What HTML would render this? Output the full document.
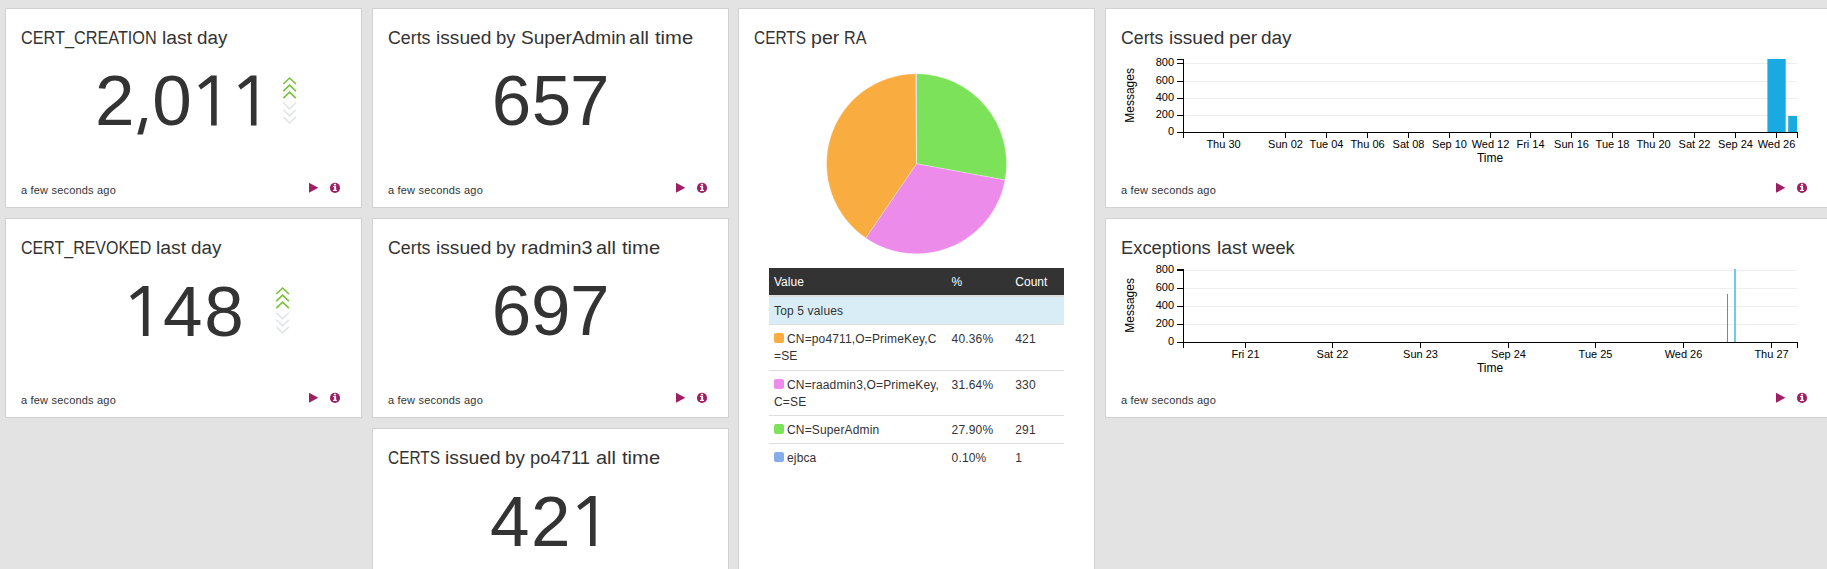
<!DOCTYPE html>
<html><head><meta charset="utf-8">
<style>
html,body{margin:0;padding:0;}
body{width:1827px;height:569px;overflow:hidden;background:#e3e3e3;position:relative;font-family:"Liberation Sans",sans-serif;color:#333;}
.card{position:absolute;background:#fff;border:1px solid #d1d1d1;box-sizing:border-box;}
.t{position:absolute;white-space:nowrap;line-height:1;}
.title{font-size:18px;color:#333;}
.num{font-size:71px;color:#333;}
.ago{font-size:11px;color:#333;}
svg{position:absolute;overflow:visible;}
table.qv{position:absolute;border-collapse:collapse;font-size:12px;line-height:17.14px;color:#333;table-layout:fixed;}
table.qv th{background:#333;color:#fff;font-weight:normal;text-align:left;padding:6px 5px 4px;border-bottom:2px solid #ddd;}
table.qv td{padding:6px 5px 4px;letter-spacing:0.15px;border-top:1px solid #ddd;white-space:nowrap;vertical-align:top;}
table.qv tr.info td{background:#d9edf7;}
.sw{display:inline-block;width:10px;height:10px;border-radius:2px;vertical-align:0px;margin-right:3px;}
</style></head>
<body>

<div class="card" style="left:5px;top:8px;width:357px;height:200px;"></div>
<div class="card" style="left:372px;top:8px;width:357px;height:200px;"></div>
<div class="card" style="left:738px;top:8px;width:357px;height:620px;"></div>
<div class="card" style="left:1105px;top:8px;width:724px;height:200px;"></div>
<div class="card" style="left:5px;top:218px;width:357px;height:200px;"></div>
<div class="card" style="left:372px;top:218px;width:357px;height:200px;"></div>
<div class="card" style="left:1105px;top:218px;width:724px;height:200px;"></div>
<div class="card" style="left:372px;top:428px;width:357px;height:200px;"></div>
<div class="t title" style="left:20.70px;top:29px;transform:scaleX(0.9027);transform-origin:0 0;">CERT_CREATION</div>
<div class="t title" style="left:161.93px;top:29px;transform:scaleX(1.0704);transform-origin:0 0;">last</div>
<div class="t title" style="left:196.66px;top:29px;transform:scaleX(1.0429);transform-origin:0 0;">day</div>
<div class="t title" style="left:387.71px;top:29px;transform:scaleX(0.9881);transform-origin:0 0;">Certs</div>
<div class="t title" style="left:435.73px;top:29px;transform:scaleX(1.0660);transform-origin:0 0;">issued</div>
<div class="t title" style="left:496.07px;top:29px;transform:scaleX(1.0278);transform-origin:0 0;">by</div>
<div class="t title" style="left:520.54px;top:29px;transform:scaleX(1.0598);transform-origin:0 0;">SuperAdmin</div>
<div class="t title" style="left:629.29px;top:29px;transform:scaleX(1.1125);transform-origin:0 0;">all</div>
<div class="t title" style="left:655.20px;top:29px;transform:scaleX(1.1212);transform-origin:0 0;">time</div>
<div class="t title" style="left:753.74px;top:29px;transform:scaleX(0.8576);transform-origin:0 0;">CERTS</div>
<div class="t title" style="left:810.61px;top:29px;transform:scaleX(1.0880);transform-origin:0 0;">per</div>
<div class="t title" style="left:843.70px;top:29px;transform:scaleX(0.8958);transform-origin:0 0;">RA</div>
<div class="t title" style="left:1120.82px;top:29px;transform:scaleX(0.9833);transform-origin:0 0;">Certs</div>
<div class="t title" style="left:1168.64px;top:29px;transform:scaleX(1.0620);transform-origin:0 0;">issued</div>
<div class="t title" style="left:1228.81px;top:29px;transform:scaleX(1.0920);transform-origin:0 0;">per</div>
<div class="t title" style="left:1261.15px;top:29px;transform:scaleX(1.0536);transform-origin:0 0;">day</div>
<div class="t title" style="left:20.71px;top:239px;transform:scaleX(0.8883);transform-origin:0 0;">CERT_REVOKED</div>
<div class="t title" style="left:155.72px;top:239px;transform:scaleX(1.0778);transform-origin:0 0;">last</div>
<div class="t title" style="left:190.56px;top:239px;transform:scaleX(1.0429);transform-origin:0 0;">day</div>
<div class="t title" style="left:387.71px;top:239px;transform:scaleX(0.9881);transform-origin:0 0;">Certs</div>
<div class="t title" style="left:435.73px;top:239px;transform:scaleX(1.0660);transform-origin:0 0;">issued</div>
<div class="t title" style="left:496.07px;top:239px;transform:scaleX(1.0278);transform-origin:0 0;">by</div>
<div class="t title" style="left:521.00px;top:239px;transform:scaleX(1.1000);transform-origin:0 0;">radmin3</div>
<div class="t title" style="left:596.39px;top:239px;transform:scaleX(1.1063);transform-origin:0 0;">all</div>
<div class="t title" style="left:622.30px;top:239px;transform:scaleX(1.1212);transform-origin:0 0;">time</div>
<div class="t title" style="left:1120.98px;top:239px;transform:scaleX(1.0195);transform-origin:0 0;">Exceptions</div>
<div class="t title" style="left:1216.73px;top:239px;transform:scaleX(1.0741);transform-origin:0 0;">last</div>
<div class="t title" style="left:1252.30px;top:239px;transform:scaleX(1.0167);transform-origin:0 0;">week</div>
<div class="t title" style="left:387.84px;top:449px;transform:scaleX(0.8559);transform-origin:0 0;">CERTS</div>
<div class="t title" style="left:444.73px;top:449px;transform:scaleX(1.0680);transform-origin:0 0;">issued</div>
<div class="t title" style="left:504.65px;top:449px;transform:scaleX(1.0500);transform-origin:0 0;">by</div>
<div class="t title" style="left:529.68px;top:449px;transform:scaleX(1.0211);transform-origin:0 0;">po4711</div>
<div class="t title" style="left:596.39px;top:449px;transform:scaleX(1.1063);transform-origin:0 0;">all</div>
<div class="t title" style="left:622.30px;top:449px;transform:scaleX(1.1212);transform-origin:0 0;">time</div>
<div class="t num" style="left:95.00px;top:65px;">2</div>
<svg style="left:0;top:0" width="1" height="1"><polygon points="141.7,118 147.3,118 142.9,134.6 137.3,134.6" fill="#333"/></svg>
<div class="t num" style="left:152.20px;top:65px;">0</div>
<svg style="left:0;top:0" width="1" height="1"><polygon points="211.10,75.60 216.70,75.60 216.70,125.40 211.10,125.40 211.10,82.00 200.90,89.60 198.30,85.40" fill="#333"/></svg>
<svg style="left:0;top:0" width="1" height="1"><polygon points="250.90,75.60 256.50,75.60 256.50,125.40 250.90,125.40 250.90,82.00 240.70,89.60 238.10,85.40" fill="#333"/></svg>
<div class="t num" style="left:491.80px;top:65px;">6</div>
<div class="t num" style="left:531.80px;top:65px;">5</div>
<div class="t num" style="left:569.90px;top:65px;">7</div>
<svg style="left:0;top:0" width="1" height="1"><polygon points="142.90,286.10 148.50,286.10 148.50,335.90 142.90,335.90 142.90,292.50 132.70,300.10 130.10,295.90" fill="#333"/></svg>
<div class="t num" style="left:162.90px;top:275.5px;">4</div>
<div class="t num" style="left:204.30px;top:275.5px;">8</div>
<div class="t num" style="left:491.80px;top:275px;">6</div>
<div class="t num" style="left:531.10px;top:275px;">9</div>
<div class="t num" style="left:569.90px;top:275px;">7</div>
<div class="t num" style="left:490.10px;top:485.5px;">4</div>
<div class="t num" style="left:531.10px;top:485.5px;">2</div>
<svg style="left:0;top:0" width="1" height="1"><polygon points="590.00,496.10 595.60,496.10 595.60,545.90 590.00,545.90 590.00,502.50 579.80,510.10 577.20,505.90" fill="#333"/></svg>
<svg style="left:0;top:0" width="1" height="1"><g fill="none" stroke-width="1.6" stroke-linecap="butt"><polyline points="283.3,84.0 289.6,78.0 295.90000000000003,84.0" stroke="#78c13a"/><polyline points="283.3,91.1 289.6,85.1 295.90000000000003,91.1" stroke="#78c13a"/><polyline points="283.3,98.2 289.6,92.2 295.90000000000003,98.2" stroke="#78c13a"/><polyline points="283.3,102.7 289.6,108.8 295.90000000000003,102.7" stroke="#e2e5e7"/><polyline points="283.3,109.8 289.6,115.89999999999999 295.90000000000003,109.8" stroke="#e2e5e7"/><polyline points="283.3,116.9 289.6,123.0 295.90000000000003,116.9" stroke="#e2e5e7"/></g></svg>
<svg style="left:0;top:0" width="1" height="1"><g fill="none" stroke-width="1.6" stroke-linecap="butt"><polyline points="276.3,294.0 282.6,288.0 288.90000000000003,294.0" stroke="#78c13a"/><polyline points="276.3,301.1 282.6,295.1 288.90000000000003,301.1" stroke="#78c13a"/><polyline points="276.3,308.2 282.6,302.2 288.90000000000003,308.2" stroke="#78c13a"/><polyline points="276.3,312.7 282.6,318.8 288.90000000000003,312.7" stroke="#e2e5e7"/><polyline points="276.3,319.8 282.6,325.90000000000003 288.90000000000003,319.8" stroke="#e2e5e7"/><polyline points="276.3,326.9 282.6,333.0 288.90000000000003,326.9" stroke="#e2e5e7"/></g></svg>
<div class="t ago" style="left:21px;top:185px;letter-spacing:0.19px;">a few seconds ago</div>
<svg style="left:0;top:0" width="1" height="1"><polygon points="309,182.7 318.3,187.75 309,192.79999999999998" fill="#9e1f63"/><circle cx="335" cy="187.9" r="5.05" fill="#9e1f63"/><rect x="333.9" y="183.8" width="2.2" height="1.5" fill="#fff"/><rect x="334.2" y="185.9" width="1.9" height="4.9" fill="#fff"/><rect x="333.0" y="185.9" width="1.3" height="1.2" fill="#fff"/><rect x="333.0" y="189.8" width="4.0" height="1.1" fill="#fff"/></svg>
<div class="t ago" style="left:388px;top:185px;letter-spacing:0.19px;">a few seconds ago</div>
<svg style="left:0;top:0" width="1" height="1"><polygon points="676,182.7 685.3,187.75 676,192.79999999999998" fill="#9e1f63"/><circle cx="702" cy="187.9" r="5.05" fill="#9e1f63"/><rect x="700.9" y="183.8" width="2.2" height="1.5" fill="#fff"/><rect x="701.2" y="185.9" width="1.9" height="4.9" fill="#fff"/><rect x="700.0" y="185.9" width="1.3" height="1.2" fill="#fff"/><rect x="700.0" y="189.8" width="4.0" height="1.1" fill="#fff"/></svg>
<div class="t ago" style="left:1121px;top:185px;letter-spacing:0.19px;">a few seconds ago</div>
<svg style="left:0;top:0" width="1" height="1"><polygon points="1776,182.7 1785.3,187.75 1776,192.79999999999998" fill="#9e1f63"/><circle cx="1802" cy="187.9" r="5.05" fill="#9e1f63"/><rect x="1800.9" y="183.8" width="2.2" height="1.5" fill="#fff"/><rect x="1801.2" y="185.9" width="1.9" height="4.9" fill="#fff"/><rect x="1800.0" y="185.9" width="1.3" height="1.2" fill="#fff"/><rect x="1800.0" y="189.8" width="4.0" height="1.1" fill="#fff"/></svg>
<div class="t ago" style="left:21px;top:395px;letter-spacing:0.19px;">a few seconds ago</div>
<svg style="left:0;top:0" width="1" height="1"><polygon points="309,392.7 318.3,397.75 309,402.8" fill="#9e1f63"/><circle cx="335" cy="397.9" r="5.05" fill="#9e1f63"/><rect x="333.9" y="393.79999999999995" width="2.2" height="1.5" fill="#fff"/><rect x="334.2" y="395.9" width="1.9" height="4.9" fill="#fff"/><rect x="333.0" y="395.9" width="1.3" height="1.2" fill="#fff"/><rect x="333.0" y="399.79999999999995" width="4.0" height="1.1" fill="#fff"/></svg>
<div class="t ago" style="left:388px;top:395px;letter-spacing:0.19px;">a few seconds ago</div>
<svg style="left:0;top:0" width="1" height="1"><polygon points="676,392.7 685.3,397.75 676,402.8" fill="#9e1f63"/><circle cx="702" cy="397.9" r="5.05" fill="#9e1f63"/><rect x="700.9" y="393.79999999999995" width="2.2" height="1.5" fill="#fff"/><rect x="701.2" y="395.9" width="1.9" height="4.9" fill="#fff"/><rect x="700.0" y="395.9" width="1.3" height="1.2" fill="#fff"/><rect x="700.0" y="399.79999999999995" width="4.0" height="1.1" fill="#fff"/></svg>
<div class="t ago" style="left:1121px;top:395px;letter-spacing:0.19px;">a few seconds ago</div>
<svg style="left:0;top:0" width="1" height="1"><polygon points="1776,392.7 1785.3,397.75 1776,402.8" fill="#9e1f63"/><circle cx="1802" cy="397.9" r="5.05" fill="#9e1f63"/><rect x="1800.9" y="393.79999999999995" width="2.2" height="1.5" fill="#fff"/><rect x="1801.2" y="395.9" width="1.9" height="4.9" fill="#fff"/><rect x="1800.0" y="395.9" width="1.3" height="1.2" fill="#fff"/><rect x="1800.0" y="399.79999999999995" width="4.0" height="1.1" fill="#fff"/></svg>
<svg style="left:0;top:0" width="1" height="1"><path d="M916.5,163.75 L916.50,73.75 A90,90 0 0 1 1005.01,180.06 Z" fill="#7ce25a" stroke="#fff" stroke-width="0.3"/><path d="M916.5,163.75 L1005.01,180.06 A90,90 0 0 1 865.73,238.06 Z" fill="#ec8bea" stroke="#fff" stroke-width="0.3"/><path d="M916.5,163.75 L865.73,238.06 A90,90 0 0 1 915.93,73.75 Z" fill="#f9ac40" stroke="#fff" stroke-width="0.3"/><path d="M916.5,163.75 L915.93,73.75 A90,90 0 0 1 916.50,73.75 Z" fill="#88abeb" stroke="#fff" stroke-width="0.3"/></svg>
<table class="qv" style="left:769px;top:268px;width:295px;">
<colgroup><col style="width:177.6px"><col style="width:63.7px"><col style="width:53.7px"></colgroup>
<thead><tr><th>Value</th><th>%</th><th>Count</th></tr></thead>
<tbody>
<tr class="info"><td colspan="3">Top 5 values</td></tr>
<tr><td><span class="sw" style="background:#f9ac40"></span>CN=po4711,O=PrimeKey,C<br>=SE</td><td>40.36%</td><td>421</td></tr>
<tr><td><span class="sw" style="background:#ec8bea"></span>CN=raadmin3,O=PrimeKey,<br>C=SE</td><td>31.64%</td><td>330</td></tr>
<tr><td><span class="sw" style="background:#7ce25a"></span>CN=SuperAdmin</td><td>27.90%</td><td>291</td></tr>
<tr><td style="border-bottom:0"><span class="sw" style="background:#88abeb"></span>ejbca</td><td>0.10%</td><td>1</td></tr>
</tbody></table>
<svg style="left:0;top:0" width="1" height="1"><g shape-rendering="crispEdges"><rect x="1184" y="115" width="613" height="1" fill="#eee"/><rect x="1184" y="98" width="613" height="1" fill="#eee"/><rect x="1184" y="81" width="613" height="1" fill="#eee"/><rect x="1184" y="63" width="613" height="1" fill="#eee"/></g><rect x="1767.4" y="59" width="18.3" height="73" fill="#1aaae2"/><rect x="1788.2" y="116" width="8.8" height="16" fill="#1aaae2"/><g shape-rendering="crispEdges" fill="#000"><rect x="1177" y="59" width="7" height="1"/><rect x="1183" y="59" width="1" height="79"/><rect x="1177" y="132" width="6" height="1"/><rect x="1177" y="115" width="6" height="1"/><rect x="1177" y="98" width="6" height="1"/><rect x="1177" y="81" width="6" height="1"/><rect x="1177" y="63" width="6" height="1"/><rect x="1183" y="132" width="615" height="1"/><rect x="1797" y="132" width="1" height="6"/><rect x="1223" y="132" width="1" height="6"/><rect x="1285" y="132" width="1" height="6"/><rect x="1326" y="132" width="1" height="6"/><rect x="1367" y="132" width="1" height="6"/><rect x="1408" y="132" width="1" height="6"/><rect x="1449" y="132" width="1" height="6"/><rect x="1490" y="132" width="1" height="6"/><rect x="1530" y="132" width="1" height="6"/><rect x="1571" y="132" width="1" height="6"/><rect x="1612" y="132" width="1" height="6"/><rect x="1653" y="132" width="1" height="6"/><rect x="1694" y="132" width="1" height="6"/><rect x="1735" y="132" width="1" height="6"/><rect x="1776" y="132" width="1" height="6"/></g><text x="1174" y="135.40" text-anchor="end" font-family="Liberation Sans" font-size="11" fill="#000">0</text><text x="1174" y="118.40" text-anchor="end" font-family="Liberation Sans" font-size="11" fill="#000">200</text><text x="1174" y="101.40" text-anchor="end" font-family="Liberation Sans" font-size="11" fill="#000">400</text><text x="1174" y="84.40" text-anchor="end" font-family="Liberation Sans" font-size="11" fill="#000">600</text><text x="1174" y="66.40" text-anchor="end" font-family="Liberation Sans" font-size="11" fill="#000">800</text><text x="1223.5" y="147.6" text-anchor="middle" font-family="Liberation Sans" font-size="11" fill="#000">Thu 30</text><text x="1285.5" y="147.6" text-anchor="middle" font-family="Liberation Sans" font-size="11" fill="#000">Sun 02</text><text x="1326.5" y="147.6" text-anchor="middle" font-family="Liberation Sans" font-size="11" fill="#000">Tue 04</text><text x="1367.5" y="147.6" text-anchor="middle" font-family="Liberation Sans" font-size="11" fill="#000">Thu 06</text><text x="1408.5" y="147.6" text-anchor="middle" font-family="Liberation Sans" font-size="11" fill="#000">Sat 08</text><text x="1449.5" y="147.6" text-anchor="middle" font-family="Liberation Sans" font-size="11" fill="#000">Sep 10</text><text x="1490.5" y="147.6" text-anchor="middle" font-family="Liberation Sans" font-size="11" fill="#000">Wed 12</text><text x="1530.5" y="147.6" text-anchor="middle" font-family="Liberation Sans" font-size="11" fill="#000">Fri 14</text><text x="1571.5" y="147.6" text-anchor="middle" font-family="Liberation Sans" font-size="11" fill="#000">Sun 16</text><text x="1612.5" y="147.6" text-anchor="middle" font-family="Liberation Sans" font-size="11" fill="#000">Tue 18</text><text x="1653.5" y="147.6" text-anchor="middle" font-family="Liberation Sans" font-size="11" fill="#000">Thu 20</text><text x="1694.5" y="147.6" text-anchor="middle" font-family="Liberation Sans" font-size="11" fill="#000">Sat 22</text><text x="1735.5" y="147.6" text-anchor="middle" font-family="Liberation Sans" font-size="11" fill="#000">Sep 24</text><text x="1776.5" y="147.6" text-anchor="middle" font-family="Liberation Sans" font-size="11" fill="#000">Wed 26</text><text x="1490" y="161.8" text-anchor="middle" font-family="Liberation Sans" font-size="12" fill="#000">Time</text><text transform="translate(1133.6,95.4) rotate(-90)" text-anchor="middle" font-family="Liberation Sans" font-size="12" fill="#000">Messages</text></svg>
<svg style="left:0;top:0" width="1" height="1"><g shape-rendering="crispEdges"><rect x="1184" y="324" width="613" height="1" fill="#eee"/><rect x="1184" y="306" width="613" height="1" fill="#eee"/><rect x="1184" y="288" width="613" height="1" fill="#eee"/><rect x="1184" y="270" width="613" height="1" fill="#eee"/></g><g shape-rendering="crispEdges"><rect x="1727" y="294" width="1" height="48" fill="#1aaae2"/><rect x="1734" y="269" width="2" height="73" fill="#72c8eb"/></g><g shape-rendering="crispEdges" fill="#000"><rect x="1177" y="269" width="7" height="1"/><rect x="1183" y="269" width="1" height="79"/><rect x="1177" y="342" width="6" height="1"/><rect x="1177" y="324" width="6" height="1"/><rect x="1177" y="306" width="6" height="1"/><rect x="1177" y="288" width="6" height="1"/><rect x="1177" y="270" width="6" height="1"/><rect x="1183" y="342" width="615" height="1"/><rect x="1797" y="342" width="1" height="6"/><rect x="1245" y="342" width="1" height="6"/><rect x="1332" y="342" width="1" height="6"/><rect x="1420" y="342" width="1" height="6"/><rect x="1508" y="342" width="1" height="6"/><rect x="1595" y="342" width="1" height="6"/><rect x="1683" y="342" width="1" height="6"/><rect x="1771" y="342" width="1" height="6"/></g><text x="1174" y="345.40" text-anchor="end" font-family="Liberation Sans" font-size="11" fill="#000">0</text><text x="1174" y="327.40" text-anchor="end" font-family="Liberation Sans" font-size="11" fill="#000">200</text><text x="1174" y="309.40" text-anchor="end" font-family="Liberation Sans" font-size="11" fill="#000">400</text><text x="1174" y="291.40" text-anchor="end" font-family="Liberation Sans" font-size="11" fill="#000">600</text><text x="1174" y="273.40" text-anchor="end" font-family="Liberation Sans" font-size="11" fill="#000">800</text><text x="1245.5" y="357.6" text-anchor="middle" font-family="Liberation Sans" font-size="11" fill="#000">Fri 21</text><text x="1332.5" y="357.6" text-anchor="middle" font-family="Liberation Sans" font-size="11" fill="#000">Sat 22</text><text x="1420.5" y="357.6" text-anchor="middle" font-family="Liberation Sans" font-size="11" fill="#000">Sun 23</text><text x="1508.5" y="357.6" text-anchor="middle" font-family="Liberation Sans" font-size="11" fill="#000">Sep 24</text><text x="1595.5" y="357.6" text-anchor="middle" font-family="Liberation Sans" font-size="11" fill="#000">Tue 25</text><text x="1683.5" y="357.6" text-anchor="middle" font-family="Liberation Sans" font-size="11" fill="#000">Wed 26</text><text x="1771.5" y="357.6" text-anchor="middle" font-family="Liberation Sans" font-size="11" fill="#000">Thu 27</text><text x="1490" y="371.8" text-anchor="middle" font-family="Liberation Sans" font-size="12" fill="#000">Time</text><text transform="translate(1133.6,305.4) rotate(-90)" text-anchor="middle" font-family="Liberation Sans" font-size="12" fill="#000">Messages</text></svg>
</body></html>
